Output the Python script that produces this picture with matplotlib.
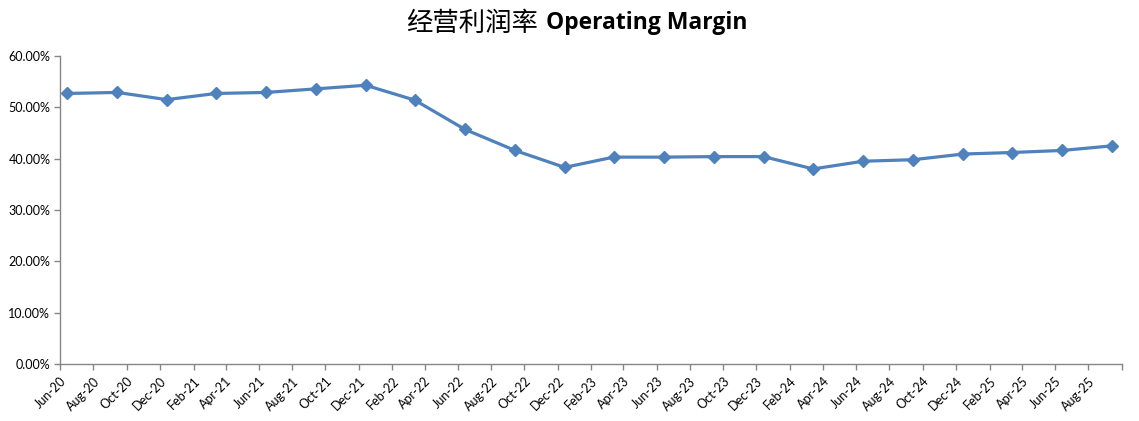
import datetime as dt
import matplotlib
matplotlib.use("Agg")
import matplotlib.pyplot as plt
from matplotlib.ticker import PercentFormatter

# quarter-end observations, Jun-20 .. Sep-25
quarters = ["2020-06", "2020-09", "2020-12", "2021-03", "2021-06", "2021-09",
            "2021-12", "2022-03", "2022-06", "2022-09", "2022-12", "2023-03",
            "2023-06", "2023-09", "2023-12", "2024-03", "2024-06", "2024-09",
            "2024-12", "2025-03", "2025-06", "2025-09"]
margin = [52.7, 52.9, 51.5, 52.7, 52.9, 53.6,
          54.3, 51.4, 45.7, 41.6, 38.3, 40.3,
          40.3, 40.4, 40.4, 38.0, 39.5, 39.8,
          40.9, 41.2, 41.6, 42.5]
y_ticks = [0, 10, 20, 30, 40, 50, 60]

line_color = "#4F81BD"
axis_color = "#868686"
tick_font = "Lato"


def to_date(s):
    y, m = s.split("-")
    return dt.date(int(y), int(m), 14)


def month_ticks(start, end):
    ticks = []
    y, m = start
    while (y, m) <= end:
        ticks.append(dt.date(y, m, 1))
        m += 2
        if m > 12:
            m -= 12
            y += 1
    return ticks


def main():
    fig = plt.figure(figsize=(11.39, 4.21), dpi=100)
    ax = fig.add_axes([0.0527, 0.1354, 0.932, 0.7316])

    dates = [to_date(q) for q in quarters]
    ax.plot(dates, margin, color=line_color, linewidth=2.3,
            marker="D", markersize=6.5, markeredgecolor=line_color)

    ticks = month_ticks((2020, 6), (2025, 10))
    ax.set_xlim(ticks[0], ticks[-1])
    ax.set_xticks(ticks)
    labels = [t.strftime("%b-%y") for t in ticks]
    labels[-1] = ""
    ax.set_xticklabels(labels, rotation=45, ha="right", rotation_mode="anchor",
                       fontsize=9, family=tick_font)

    ax.set_ylim(0, 60)
    ax.set_yticks(y_ticks)
    ax.yaxis.set_major_formatter(PercentFormatter(decimals=2))
    for lab in ax.get_yticklabels():
        lab.set_fontsize(9)
        lab.set_family(tick_font)

    for side in ["top", "right"]:
        ax.spines[side].set_visible(False)
    for side in ["left", "bottom"]:
        ax.spines[side].set_color(axis_color)
        ax.spines[side].set_linewidth(1.0)
    ax.tick_params(axis="both", color=axis_color, length=4, width=1.0,
                   labelcolor="black")
    ax.tick_params(axis="y", pad=3)
    ax.tick_params(axis="x", pad=4)

    # title: Chinese part regular, English part bold
    fig.text(0.472, 0.945, "经营利润率", ha="right", va="center",
             fontsize=19, family=["Noto Sans CJK SC", "DejaVu Sans"])
    fig.text(0.479, 0.945, "Operating Margin", ha="left", va="center",
             fontsize=16.5, fontweight="bold", family="Open Sans")

    plt.savefig("out.png", dpi=100)


if __name__ == "__main__":
    main()
